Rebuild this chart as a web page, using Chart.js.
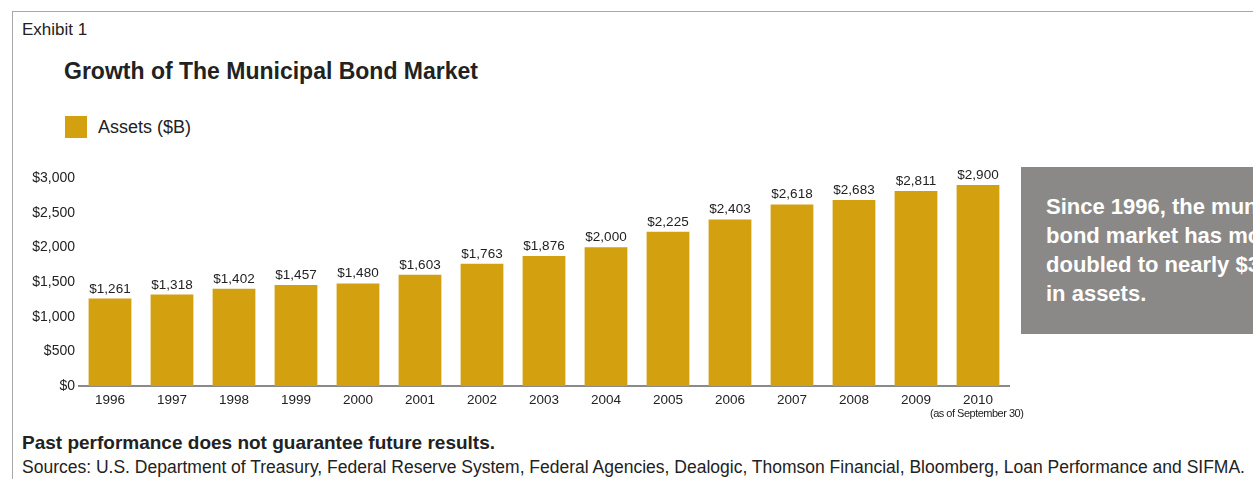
<!DOCTYPE html>
<html lang="en">
<head>
<meta charset="UTF-8">
<title>Growth of The Municipal Bond Market</title>
<script src="https://cdn.jsdelivr.net/npm/chart.js"></script>
<style>
  html, body { margin: 0; padding: 0; background: #fff; }
  body { width: 1253px; height: 479px; position: relative; overflow: hidden;
         font-family: "Liberation Sans", Arial, Helvetica, sans-serif; color: #222; }
  .frame { position: absolute; left: 12px; top: 11px; width: 1300px; height: 500px;
           border-top: 1px solid #a8a8a8; border-left: 1px solid #a8a8a8; }
  .exhibit { position: absolute; left: 22px; top: 20px; font-size: 17px; }
  .title { position: absolute; left: 64px; top: 58px; font-size: 23px; font-weight: bold; }
  .legend { position: absolute; left: 65px; top: 116px; font-size: 18px; }
  .legend .swatch { display: inline-block; width: 22px; height: 22px; background: #D3A010;
                    vertical-align: middle; margin-right: 11px; }
  .legend span { vertical-align: middle; }
  .note { position: absolute; left: 1021px; top: 167px; width: 260px; height: 167px;
          background: #8b8987; color: #fff; font-size: 22px; font-weight: bold; }
  .note div { position: absolute; left: 25px; top: 25px; line-height: 29px; white-space: nowrap; }
  .asof { position: absolute; left: 930px; top: 407px; font-size: 11px; letter-spacing: -0.5px; }
  .disclaimer { position: absolute; left: 22px; top: 432px; font-size: 19px; font-weight: bold; }
  .sources { position: absolute; left: 22px; top: 457px; font-size: 17.5px; }
  #wrap { position: absolute; left: 0; top: 160px; width: 1015px; height: 265px; }
</style>
</head>
<body>
<div class="frame"></div>
<div class="exhibit">Exhibit 1</div>
<div class="title">Growth of The Municipal Bond Market</div>
<div class="legend"><span class="swatch"></span><span>Assets ($B)</span></div>

<div id="wrap"><canvas id="bondChart"></canvas></div>
<div class="asof">(as of September 30)</div>

<div class="note"><div>Since 1996, the municipal<br>bond market has more than<br>doubled to nearly $3 trillion<br>in assets.</div></div>

<div class="disclaimer">Past performance does not guarantee future results.</div>
<div class="sources">Sources: U.S. Department of Treasury, Federal Reserve System, Federal Agencies, Dealogic, Thomson Financial, Bloomberg, Loan Performance and SIFMA.</div>

<script>
const years = ['1996', '1997', '1998', '1999', '2000', '2001', '2002', '2003',
               '2004', '2005', '2006', '2007', '2008', '2009', '2010'];
const assets = [1261, 1318, 1402, 1457, 1480, 1603, 1763, 1876,
                2000, 2225, 2403, 2618, 2683, 2811, 2900];
const yTicks = [0, 500, 1000, 1500, 2000, 2500, 3000];

const money = v => '$' + v.toLocaleString('en-US');
const FONT = '"Liberation Sans", Arial, sans-serif';

// value labels printed above each bar
const barLabels = {
  id: 'barLabels',
  afterDatasetsDraw(chart) {
    const ctx = chart.ctx;
    const meta = chart.getDatasetMeta(0);
    ctx.save();
    ctx.font = '13.5px ' + FONT;
    ctx.fillStyle = '#222';
    ctx.textAlign = 'center';
    ctx.textBaseline = 'alphabetic';
    meta.data.forEach((bar, i) => {
      ctx.fillText(money(assets[i]), bar.x, bar.y - 6);
    });
    ctx.restore();
  }
};

new Chart(document.getElementById('bondChart'), {
  type: 'bar',
  data: {
    labels: years,
    datasets: [{
      label: 'Assets ($B)',
      data: assets,
      backgroundColor: '#D3A010',
      barPercentage: 0.69,
      categoryPercentage: 1.0
    }]
  },
  options: {
    responsive: true,
    maintainAspectRatio: false,
    animation: false,
    layout: { padding: { top: 18, right: 6, left: 0, bottom: 0 } },
    plugins: { legend: { display: false }, tooltip: { enabled: false } },
    scales: {
      x: {
        grid: { display: false, drawTicks: false },
        border: { color: '#8a8a8a', width: 2 },
        ticks: { color: '#222', padding: 6, font: { size: 13.5, family: FONT } },
        afterFit(scale) { scale.height = 39; }
      },
      y: {
        min: 0, max: 3000,
        afterBuildTicks(scale) { scale.ticks = yTicks.map(v => ({ value: v })); },
        grid: { display: false, drawTicks: false },
        border: { display: false },
        ticks: {
          color: '#222', padding: 4,
          font: { size: 14, family: FONT },
          callback: v => money(v)
        },
        afterFit(scale) { scale.width = 79; }
      }
    }
  },
  plugins: [barLabels]
});
</script>
</body>
</html>
